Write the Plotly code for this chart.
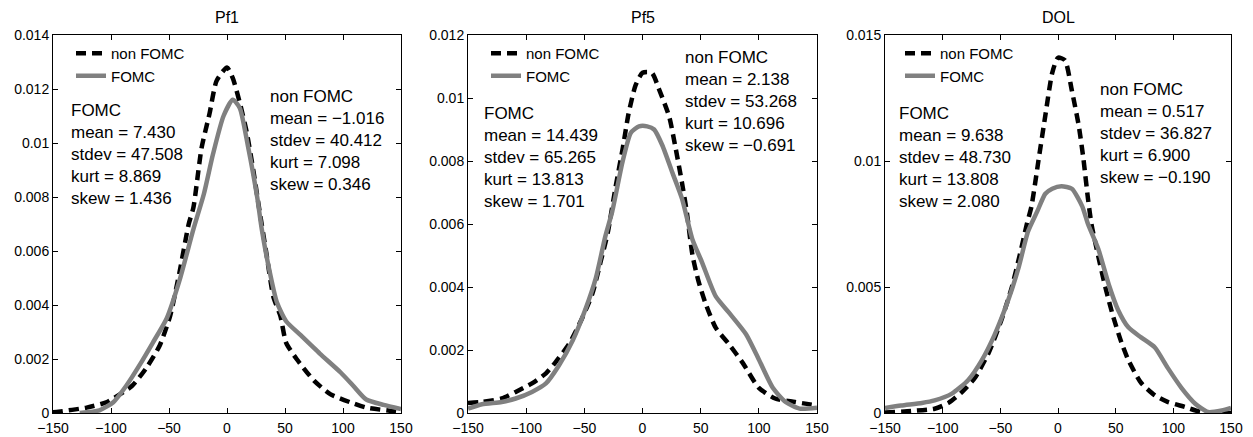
import plotly.graph_objects as go

# ---------------- data ----------------
titles = ["Pf1", "Pf5", "DOL"]

pf1_non_x = [-150, -147, -121, -104, -82, -69, -58, -49, -41, -33, -29, -22, -15, -9, 0, 5, 11, 17, 23, 28, 34, 40, 46, 51, 60, 75, 89, 106, 120, 143, 150]
pf1_non_y = [0.00003, 0.00004, 0.0002, 0.0004, 0.001, 0.0017, 0.0025, 0.0036, 0.0052, 0.007, 0.0076, 0.0098, 0.0111, 0.0123, 0.0128, 0.0124, 0.0115, 0.0104, 0.0089, 0.0075, 0.0059, 0.0043, 0.0036, 0.0026, 0.002, 0.0012, 0.0007, 0.0004, 0.0002, 0.00007, 0.00003]
pf1_fomc_x = [-127, -110, -98, -87, -75, -64, -52, -41, -29, -20, -12, -3, 5, 11, 18, 26, 30, 36, 43, 51, 63, 80, 98, 109, 120, 135, 150]
pf1_fomc_y = [0.0, 0.0001, 0.0004, 0.001, 0.0018, 0.0026, 0.0035, 0.0049, 0.0068, 0.0081, 0.0096, 0.011, 0.0116, 0.0113, 0.0099, 0.008, 0.0068, 0.0054, 0.0041, 0.0034, 0.0029, 0.0022, 0.0015, 0.001, 0.0005, 0.0003, 0.00015]

pf5_non_x = [-150, -138, -121, -109, -95, -83, -75, -63, -52, -43, -36, -30, -23, -17, -12, -6, 0, 8, 14, 23, 28, 34, 38, 43, 48, 54, 63, 74, 86, 100, 114, 131, 150]
pf5_non_y = [0.00032, 0.00035, 0.00046, 0.00067, 0.00094, 0.00126, 0.0016, 0.0022, 0.003, 0.0038, 0.0048, 0.0057, 0.0072, 0.0084, 0.0095, 0.0104, 0.0108, 0.0108, 0.0103, 0.0094, 0.0085, 0.0073, 0.0064, 0.005, 0.0042, 0.0035, 0.0027, 0.0022, 0.0016, 0.0008, 0.00046, 0.00035, 0.00024]
pf5_fomc_x = [-150, -138, -121, -109, -95, -83, -72, -60, -49, -40, -32, -26, -17, -10, -3, 4, 10, 17, 26, 34, 43, 51, 63, 74, 89, 100, 112, 123, 135, 150]
pf5_fomc_y = [0.00014, 0.00028, 0.00035, 0.00046, 0.00067, 0.00094, 0.0015, 0.0023, 0.0033, 0.0043, 0.0056, 0.0064, 0.008, 0.0089, 0.0091, 0.0091, 0.009, 0.0085, 0.0076, 0.0068, 0.0055, 0.0048, 0.0037, 0.0032, 0.0025, 0.0017, 0.0008, 0.00035, 0.00014, 0.00017]

dol_non_x = [-150, -127, -107, -95, -84, -72, -60, -49, -40, -33, -27, -23, -17, -11, -5, 0, 6, 12, 18, 22, 26, 29, 35, 41, 48, 55, 61, 72, 84, 95, 110, 124, 150]
dol_non_y = [0.00002, 0.00008, 0.00017, 0.0004, 0.0008, 0.0014, 0.0024, 0.0037, 0.005, 0.0063, 0.0075, 0.0082, 0.01, 0.0118, 0.0135, 0.0141, 0.014, 0.0128, 0.0114, 0.0101, 0.0085, 0.0075, 0.0062, 0.005, 0.0038, 0.0028, 0.0021, 0.0012, 0.0007, 0.00044, 0.00024, 0.00004, 0.0]
dol_fomc_x = [-150, -136, -118, -107, -92, -78, -66, -55, -43, -34, -26, -18, -11, -5, 3, 12, 21, 26, 35, 44, 52, 61, 72, 84, 95, 107, 119, 130, 142, 150]
dol_fomc_y = [0.0002, 0.0003, 0.0004, 0.0005, 0.00077, 0.0013, 0.0021, 0.0031, 0.0045, 0.0058, 0.0072, 0.008, 0.0087, 0.0089, 0.009, 0.0089, 0.0082, 0.0075, 0.0065, 0.0051, 0.0041, 0.0034, 0.003, 0.0026, 0.0018, 0.001, 0.00037, 0.00004, 0.0001, 0.0002]

non_series = [(pf1_non_x, pf1_non_y), (pf5_non_x, pf5_non_y), (dol_non_x, dol_non_y)]
fomc_series = [(pf1_fomc_x, pf1_fomc_y), (pf5_fomc_x, pf5_fomc_y), (dol_fomc_x, dol_fomc_y)]

fomc_stats = [("7.430", "47.508", "8.869", "1.436"),
              ("14.439", "65.265", "13.813", "1.701"),
              ("9.638", "48.730", "13.808", "2.080")]
non_stats = [("\u22121.016", "40.412", "7.098", "0.346"),
             ("2.138", "53.268", "10.696", "\u22120.691"),
             ("0.517", "36.827", "6.900", "\u22120.190")]

y_ranges = [0.014, 0.012, 0.015]
y_tickvals = [[0, 0.002, 0.004, 0.006, 0.008, 0.01, 0.012, 0.014],
              [0, 0.002, 0.004, 0.006, 0.008, 0.01, 0.012],
              [0, 0.005, 0.01, 0.015]]
y_ticktext = [["0", "0.002", "0.004", "0.006", "0.008", "0.01", "0.012", "0.014"],
              ["0", "0.002", "0.004", "0.006", "0.008", "0.01", "0.012"],
              ["0", "0.005", "0.01", "0.015"]]
x_tickvals = [-150, -100, -50, 0, 50, 100, 150]

# ---------------- layout geometry (pixels) ----------------
W, H = 1253, 437
px_left = [53, 468, 885]
px_right = [401, 817, 1231]
py_top, py_bot = 35, 413

FONT = "Liberation Sans, Arial, Helvetica, sans-serif"

fig = go.Figure()
layout = dict(
    width=W, height=H,
    margin=dict(l=0, r=0, t=0, b=0, autoexpand=False),
    paper_bgcolor="white", plot_bgcolor="white",
    font=dict(family=FONT, size=12, color="black"),
    annotations=[],
)

fomc_block_pos = [(69, 99), (482, 102), (897, 102)]
non_block_pos = [(268, 85), (683, 46), (1098, 78)]
legend_pos = [(71, 37), (486, 37), (900, 37)]

for i in range(3):
    sfx = "" if i == 0 else str(i + 1)
    xa = "x" + sfx
    ya = "y" + sfx
    leg = "legend" + sfx
    fig.add_trace(go.Scatter(
        x=non_series[i][0], y=non_series[i][1], mode="lines",
        line=dict(color="black", width=4.5, dash="10px,6px", shape="spline", smoothing=0.6),
        name="non FOMC", xaxis=xa, yaxis=ya, legend=leg))
    fig.add_trace(go.Scatter(
        x=fomc_series[i][0], y=fomc_series[i][1], mode="lines",
        line=dict(color="#808080", width=4.5, shape="spline", smoothing=0.6),
        name="FOMC", xaxis=xa, yaxis=ya, legend=leg))

    dom_x = [px_left[i] / W, px_right[i] / W]
    dom_y = [(H - py_bot) / H, (H - py_top) / H]
    layout["xaxis" + sfx] = dict(
        domain=dom_x, range=[-150, 150], anchor=ya, automargin=False,
        tickvals=x_tickvals, ticks="inside", ticklen=5, tickcolor="black",
        showline=True, linecolor="black", linewidth=1, mirror="allticks",
        showgrid=False, zeroline=False, tickfont=dict(size=14), fixedrange=True,
        ticklabelstandoff=2)
    layout["yaxis" + sfx] = dict(
        domain=dom_y, range=[0, y_ranges[i]], anchor=xa, automargin=False,
        tickvals=y_tickvals[i], ticktext=y_ticktext[i], ticks="inside", ticklen=5,
        tickcolor="black", showline=True, linecolor="black", linewidth=1,
        mirror="allticks", showgrid=False, zeroline=False,
        tickfont=dict(size=14), fixedrange=True)
    lx, ly = legend_pos[i]
    layout[leg] = dict(
        x=lx / W, y=(H - ly) / H, xanchor="left", yanchor="top",
        bgcolor="rgba(0,0,0,0)", borderwidth=0, traceorder="normal",
        font=dict(size=15, family=FONT), tracegroupgap=0, itemwidth=30)

    layout["annotations"].append(dict(
        text=titles[i], x=(px_left[i] + px_right[i]) / 2 / W, y=(H - 18) / H,
        xref="paper", yref="paper", xanchor="center", yanchor="middle",
        showarrow=False, font=dict(size=16)))
    m, s, k, sk = fomc_stats[i]
    fx, fy = fomc_block_pos[i]
    layout["annotations"].append(dict(
        text=f"FOMC<br>mean = {m}<br>stdev = {s}<br>kurt = {k}<br>skew = {sk}",
        x=fx / W, y=(H - fy) / H, xref="paper", yref="paper",
        xanchor="left", yanchor="top", align="left", showarrow=False,
        font=dict(size=17)))
    m, s, k, sk = non_stats[i]
    nx, ny = non_block_pos[i]
    layout["annotations"].append(dict(
        text=f"non FOMC<br>mean = {m}<br>stdev = {s}<br>kurt = {k}<br>skew = {sk}",
        x=nx / W, y=(H - ny) / H, xref="paper", yref="paper",
        xanchor="left", yanchor="top", align="left", showarrow=False,
        font=dict(size=17)))

fig.update_layout(**layout)
fig.write_html(
    "out.html",
    config={"displayModeBar": False},
    post_script="document.body.style.margin='0';document.body.style.padding='0';",
)
